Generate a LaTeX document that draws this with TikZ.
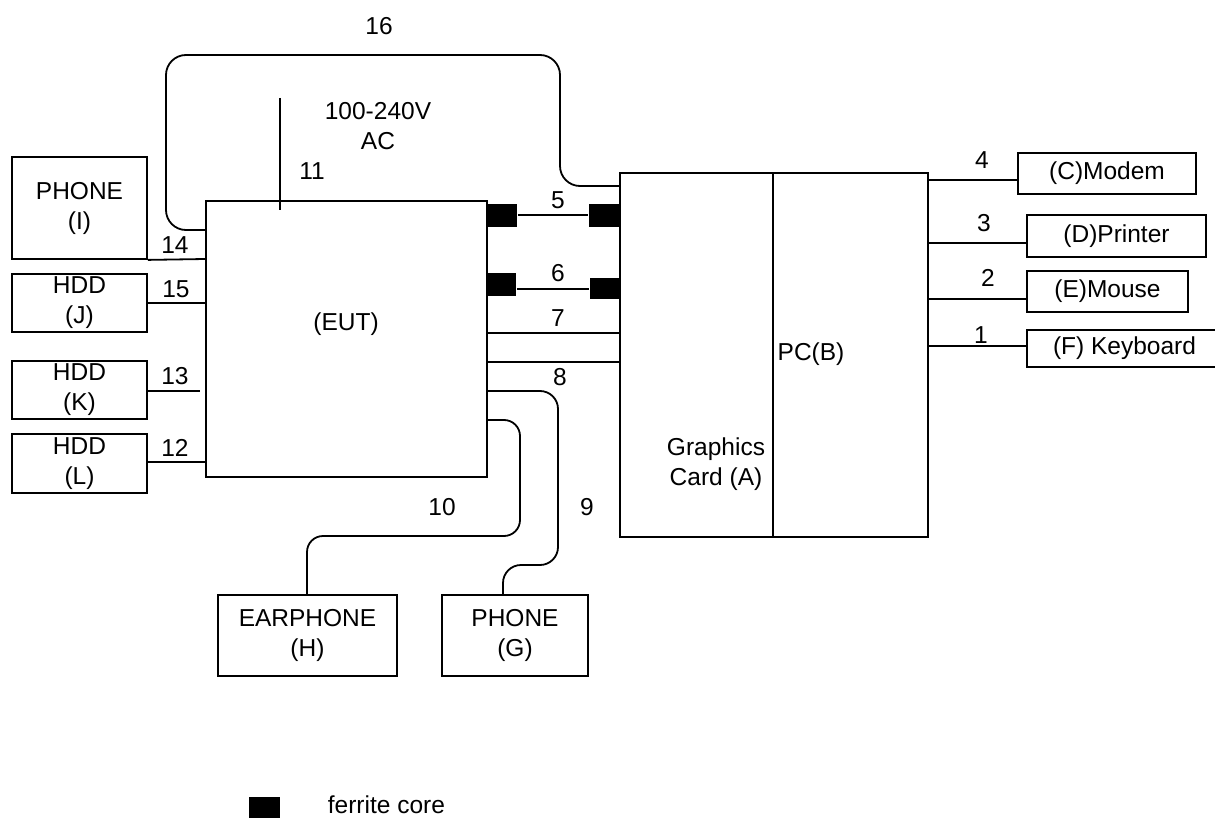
\documentclass[tikz,border=0pt]{standalone}
\usepackage{fontspec}
\setmainfont{Liberation Sans}
\usetikzlibrary{calc}
\begin{document}
\begin{tikzpicture}[x=1pt,y=-1pt,line width=1.8pt,
  font=\fontsize{24.5}{30}\selectfont,
  box/.style={draw,rectangle,inner sep=0pt,align=center,line width=1.8pt},
  core/.style={fill=black,draw=none,rectangle,inner sep=0pt,minimum width=30pt,minimum height=23pt},
  cable/.style={draw,line width=1.8pt},
  num/.style={inner sep=0pt},
  txt/.style={inner sep=0pt,align=center}]
\useasboundingbox (0,0) rectangle (1215,818);

% main boxes
\node[box,minimum width=281pt,minimum height=276pt] (eut) at (346.5,339) {};
\node[txt] (eutlbl) at (346,324) {(EUT)};
\node[box,minimum width=153pt,minimum height=364pt] (gc) at (696.5,355) {};
\node[box,minimum width=155pt,minimum height=364pt] (pcb) at (850.5,355) {};
\node[txt] (gclbl) at (716,464) {Graphics\\Card (A)};
\node[txt] (pclbl) at (811,354) {PC(B)};

% right peripherals
\node[box,minimum width=178pt,minimum height=41pt] (modem) at (1107,173.5) {(C)Modem};
\node[box,minimum width=179pt,minimum height=42pt] (printer) at (1116.5,236) {(D)Printer};
\node[box,minimum width=161pt,minimum height=41pt] (mouse) at (1107.5,291.5) {(E)Mouse};
\node[box,minimum width=195pt,minimum height=37pt] (kbd) at (1124.5,348.5) {(F) Keyboard};

% left peripherals
\node[box,minimum width=135pt,minimum height=102pt] (phoneI) at (79.5,208) {PHONE\\(I)};
\node[box,minimum width=135pt,minimum height=58pt] (hddJ) at (79.5,303) {HDD\\(J)};
\node[box,minimum width=135pt,minimum height=58pt] (hddK) at (79.5,390) {HDD\\(K)};
\node[box,minimum width=135pt,minimum height=59pt] (hddL) at (79.5,463.5) {HDD\\(L)};

% bottom peripherals
\node[box,minimum width=179pt,minimum height=81pt] (earH) at (307.5,635.5) {EARPHONE\\(H)};
\node[box,minimum width=146pt,minimum height=81pt] (phoneG) at (515,635.5) {PHONE\\(G)};

% ferrite cores
\node[core] (fc5a) at (502,215.5) {};
\node[core,minimum width=31pt] (fc5b) at (604.5,215.5) {};
\node[core,minimum width=29pt] (fc6a) at (501.5,284.5) {};
\node[core,minimum height=21pt] (fc6b) at (605,288.5) {};

% coordinates for free ends
\coordinate (c11top) at (280,98);
\coordinate (c11bot) at (280,210);
\coordinate (c13end) at (200,391);

% cable 16
\draw[cable,rounded corners=20pt] (eut.west |- 0,230) -- (166,230) -- (166,55) -- (560,55) -- (560,186) -- (gc.west |- 0,186);
\node[num] (n16) at (379,26) {16};
% cable 11
\draw[cable] (c11top) -- (c11bot);
\node[num] (n11) at (312,171) {11};
\node[txt] (ac) at (378,126) {100-240V\\AC};
% cables 5-8
\draw[cable] (fc5a.east |- 0,215) -- (fc5b.west |- 0,215);
\node[num] (n5) at (558,200) {5};
\draw[cable] (fc6a.east |- 0,289) -- (fc6b.west |- 0,289);
\node[num] (n6) at (558,273) {6};
\draw[cable] (eut.east |- 0,333) -- (gc.west |- 0,333);
\node[num] (n7) at (558,318) {7};
\draw[cable] (eut.east |- 0,362) -- (gc.west |- 0,362);
\node[num] (n8) at (560,377) {8};
% cable 9
\draw[cable,rounded corners=18pt] (eut.east |- 0,391) -- (558,391) -- (558,565) -- (503,565) -- (phoneG.north -| 503,0);
\node[num] (n9) at (587,507) {9};
% cable 10
\draw[cable,rounded corners=16pt] (eut.east |- 0,420) -- (520,420) -- (520,536) -- (307,536) -- (earH.north -| 307,0);
\node[num] (n10) at (442,507) {10};

% right cables
\draw[cable] (pcb.east |- 0,180) -- (modem.west |- 0,180);
\node[num] (n4) at (982,160) {4};
\draw[cable] (pcb.east |- 0,243) -- (printer.west |- 0,243);
\node[num] (n3) at (984,223) {3};
\draw[cable] (pcb.east |- 0,299) -- (mouse.west |- 0,299);
\node[num] (n2) at (988,278) {2};
\draw[cable] (pcb.east |- 0,346) -- (kbd.west |- 0,346);
\node[num] (n1) at (981,335) {1};

% left cables
\draw[cable] (phoneI.south east) -- (eut.west |- 0,259);
\node[num] (n14) at (175,245) {14};
\draw[cable] (hddJ.east) -- (eut.west |- 0,303);
\node[num] (n15) at (176,289) {15};
\draw[cable] (hddK.east |- 0,391) -- (c13end);
\node[num] (n13) at (175,376) {13};
\draw[cable] (hddL.east |- 0,462) -- (eut.west |- 0,462);
\node[num] (n12) at (175,448) {12};

% legend
\node[core,minimum width=31pt] (legcore) at (264.5,808) {};
\node[inner sep=0pt,anchor=base west] (legtxt) at (327,813) {ferrite core};
\end{tikzpicture}
\end{document}
